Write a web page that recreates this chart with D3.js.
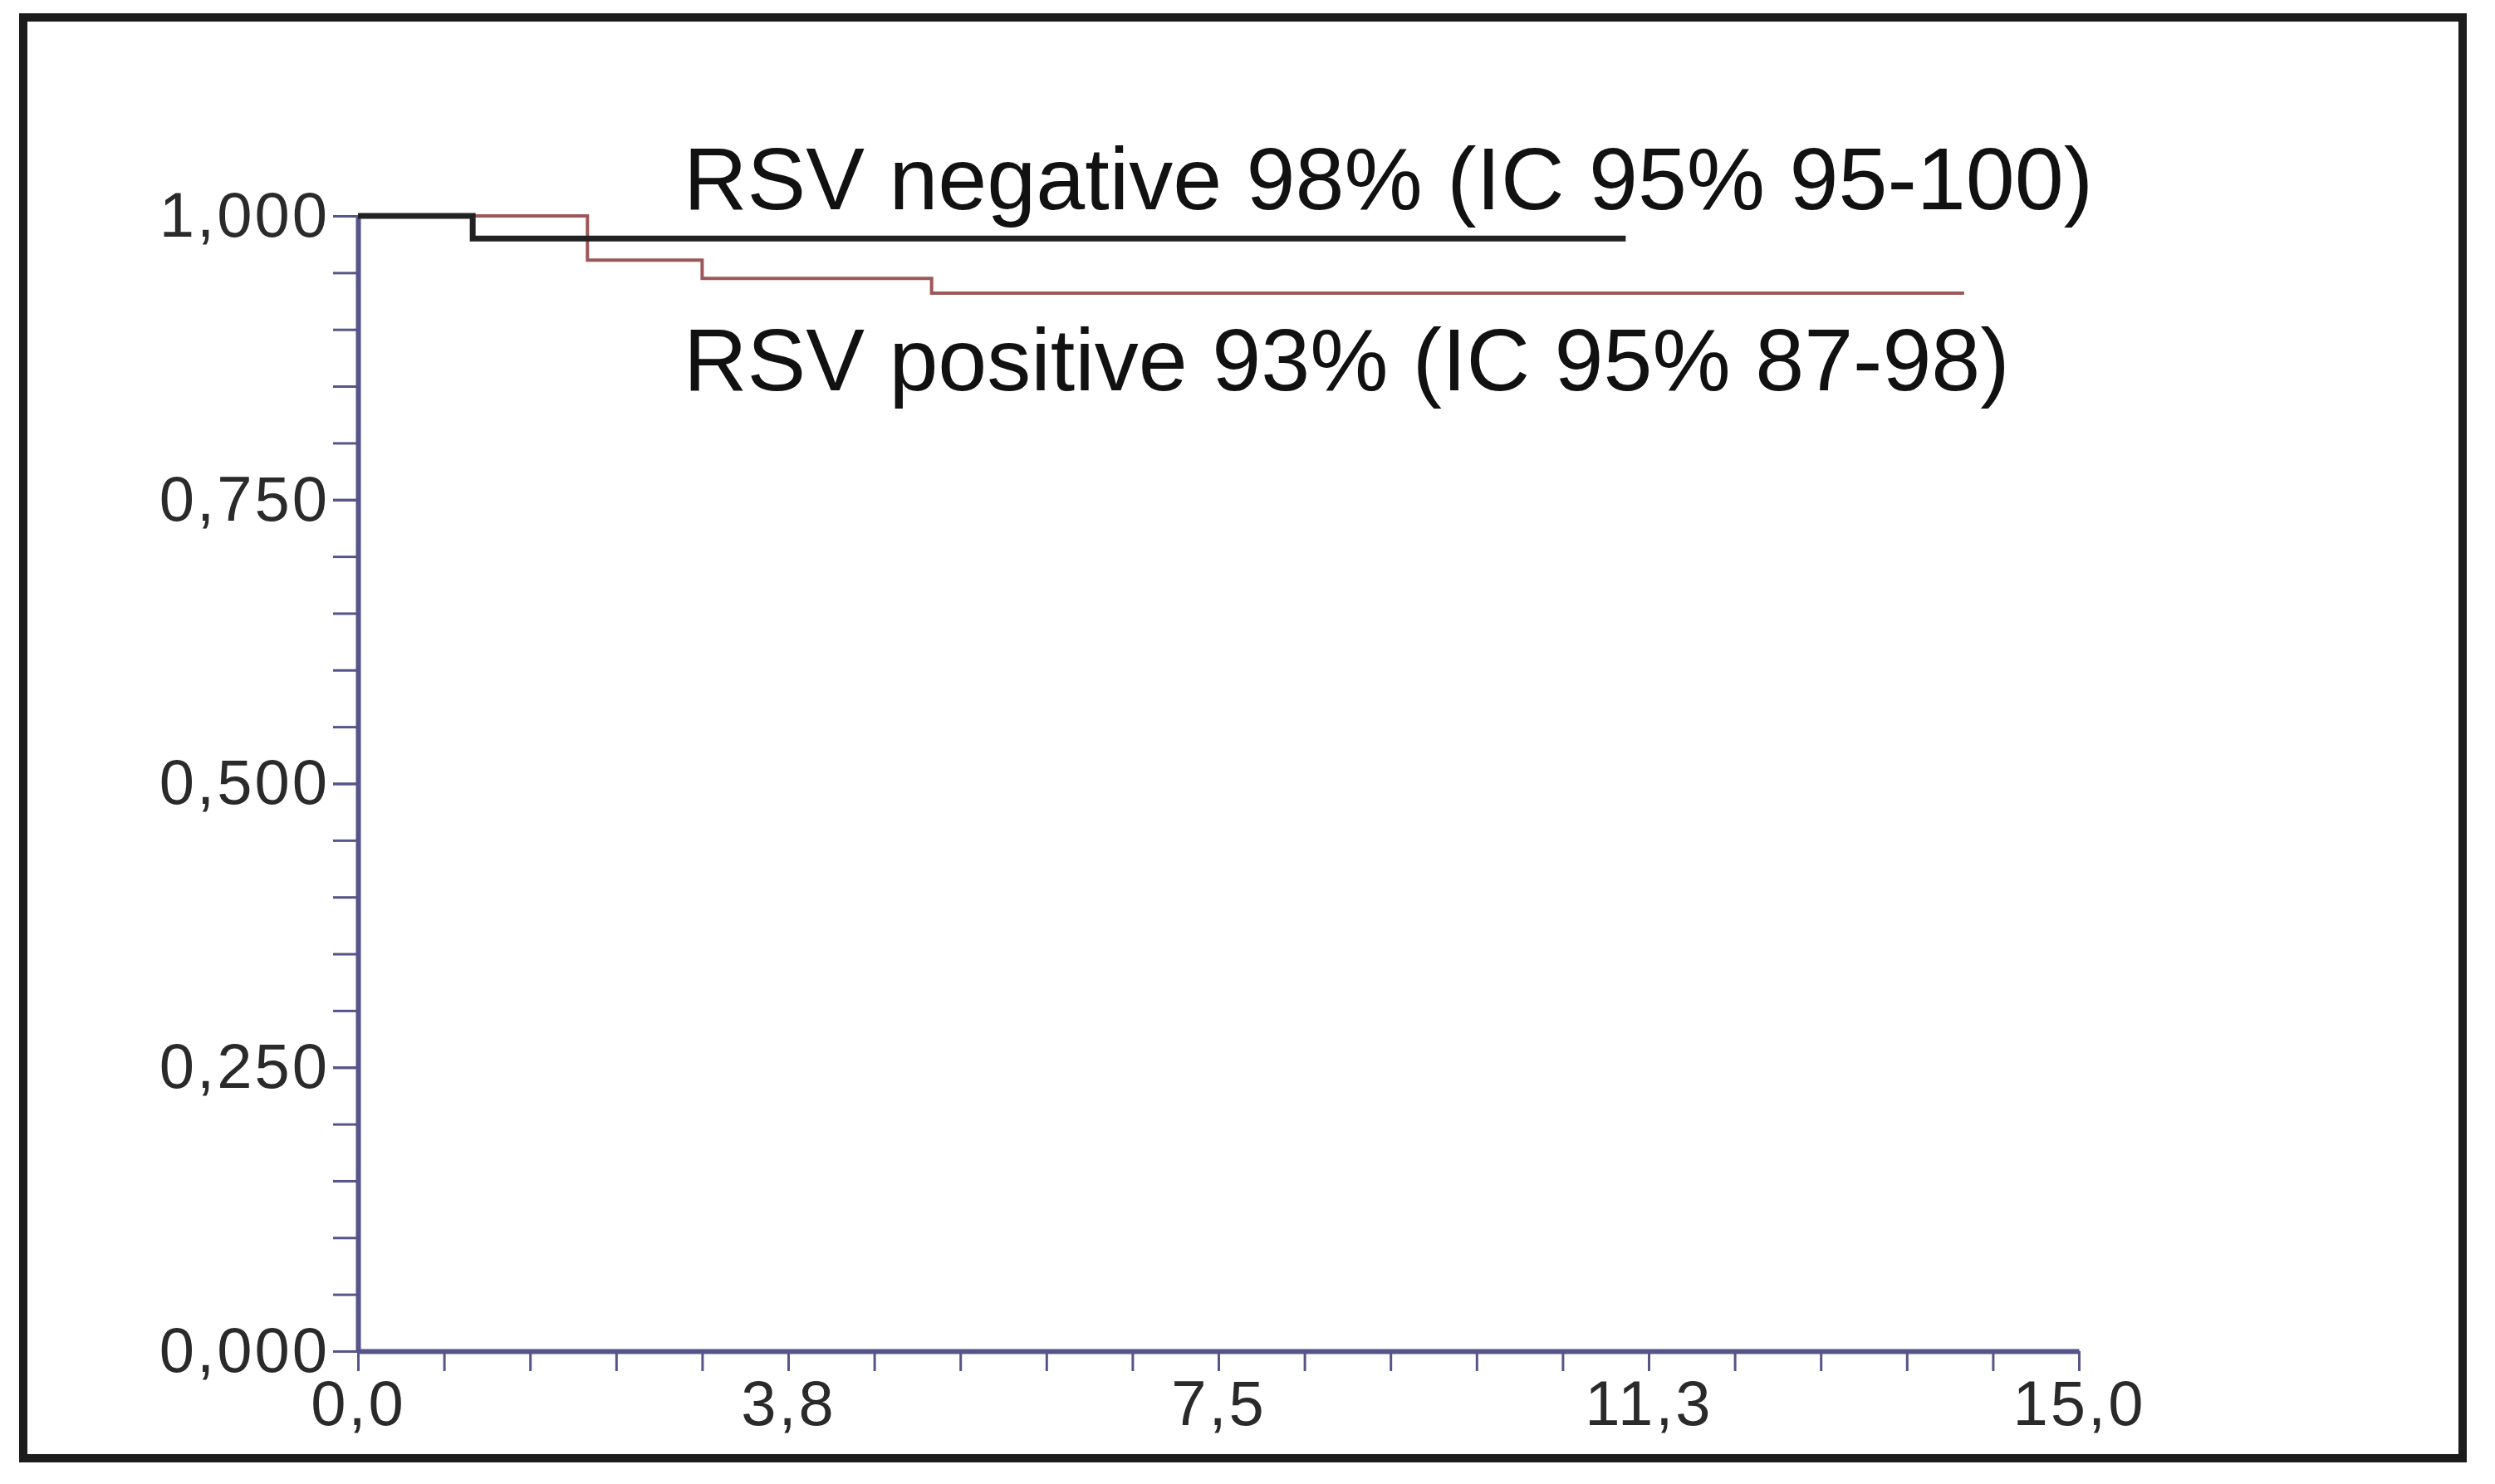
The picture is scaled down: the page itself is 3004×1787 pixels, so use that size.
<!DOCTYPE html>
<html>
<head>
<meta charset="utf-8">
<script src="https://cdn.jsdelivr.net/npm/d3@7"></script>
<style>
  html, body { margin: 0; padding: 0; background: #fff; }
  svg { display: block; }
  .tick text { font-family: "Liberation Sans", Arial, sans-serif; fill: #2a2a2a; }
</style>
</head>
<body>
<div id="chart"></div>
<script>
// Survival curves (time, survival proportion)
const negTimes = [0, 1, 11.05];
const negSurv = [1.0, 0.98, 0.98];
const posTimes = [0, 2, 3, 5, 14];
const posSurv = [1.0, 0.961, 0.945, 0.932, 0.932];

const seriesLabels = [
  "RSV negative 98% (IC 95% 95-100)",
  "RSV positive 93% (IC 95% 87-98)",
];

const xMajorTicks = [0, 3.75, 7.5, 11.25, 15];
const yMajorTicks = [0, 0.25, 0.5, 0.75, 1.0];

const width = 3004;
const height = 1787;
const AXIS_COLOR = "#55558a";

// comma decimal, like the original software
const locale = d3.formatLocale({ decimal: ",", thousands: ".", grouping: [3], currency: ["", ""] });
const fmtY = locale.format(".3f");
const fmtX = locale.format(".1f");

const svg = d3
  .select("#chart")
  .append("svg")
  .attr("width", width)
  .attr("height", height);

svg.append("rect").attr("width", width).attr("height", height).attr("fill", "#fff");

// outer frame
svg
  .append("rect")
  .attr("x", 28)
  .attr("y", 21)
  .attr("width", 2937)
  .attr("height", 1735)
  .attr("fill", "none")
  .attr("stroke", "#1c1c1c")
  .attr("stroke-width", 10);

const x = d3.scaleLinear().domain([0, 15]).range([431, 2503]);
const y = d3.scaleLinear().domain([0, 1]).range([1627, 260]);

// minor ticks every 0.75 on x and 0.05 on y
const xMinor = d3.range(0, 15.0001, 0.75);
const yMinor = d3.range(0, 1.0001, 0.05);

const xAxisG = svg.append("g").attr("transform", `translate(0,${y(0)})`);
xAxisG.call(d3.axisBottom(x).tickValues(xMinor).tickSize(24).tickSizeOuter(0).tickFormat(""));
xAxisG
  .append("g")
  .call(d3.axisBottom(x).tickValues(xMajorTicks).tickSize(24).tickSizeOuter(0).tickPadding(11).tickFormat(fmtX))
  .call((g) => g.select(".domain").remove());

const yAxisG = svg.append("g").attr("transform", `translate(${x(0)},0)`);
yAxisG.call(d3.axisLeft(y).tickValues(yMinor).tickSize(30).tickSizeOuter(0).tickFormat(""));
yAxisG
  .append("g")
  .call(d3.axisLeft(y).tickValues(yMajorTicks).tickSize(30).tickSizeOuter(0).tickPadding(4).tickFormat(fmtY))
  .call((g) => g.select(".domain").remove());

svg.selectAll(".domain").attr("stroke", AXIS_COLOR).attr("stroke-width", 6);
svg.selectAll(".tick line").attr("stroke", AXIS_COLOR).attr("stroke-width", 3);
svg
  .selectAll(".tick text")
  .attr("font-size", 76)
  .attr("letter-spacing", 3);

// step curves
const line = d3
  .line()
  .x((d) => x(d[0]))
  .y((d) => y(d[1]))
  .curve(d3.curveStepAfter);

const posData = d3.zip(posTimes, posSurv);
const negData = d3.zip(negTimes, negSurv);

svg
  .append("path")
  .datum(posData)
  .attr("d", line)
  .attr("fill", "none")
  .attr("stroke", "#9c5858")
  .attr("stroke-width", 4);

svg
  .append("path")
  .datum(negData)
  .attr("d", line)
  .attr("fill", "none")
  .attr("stroke", "#222")
  .attr("stroke-width", 7);

// curve labels
svg
  .selectAll("text.series")
  .data(seriesLabels)
  .enter()
  .append("text")
  .attr("class", "series")
  .attr("x", 823)
  .attr("y", (d, i) => (i === 0 ? 252 : 470))
  .attr("font-family", "Liberation Sans, Arial, sans-serif")
  .attr("font-size", 106)
  .attr("fill", "#111")
  .text((d) => d);
</script>
</body>
</html>
